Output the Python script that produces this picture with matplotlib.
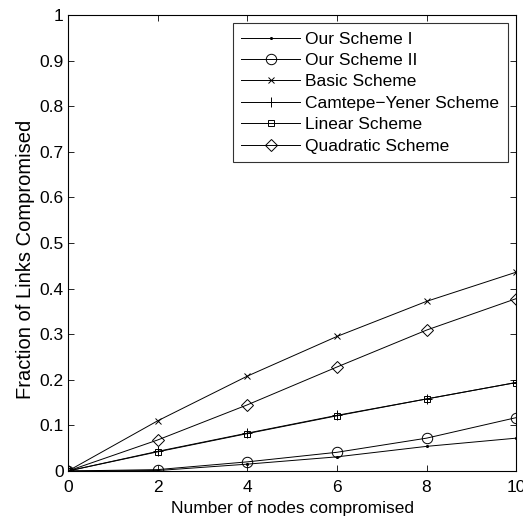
import numpy as np
import matplotlib
matplotlib.use("Agg")
import matplotlib.pyplot as plt

plt.rcParams['font.family'] = ['Liberation Sans', 'DejaVu Sans']

nodes = [0, 2, 4, 6, 8, 10]
our_scheme_1 = [0.0, 0.001, 0.015, 0.031, 0.054, 0.072]
our_scheme_2 = [0.0, 0.003, 0.020, 0.041, 0.072, 0.117]
basic = [0.0, 0.110, 0.208, 0.295, 0.372, 0.436]
camtepe_yener = [0.0, 0.043, 0.083, 0.122, 0.158, 0.194]
linear = [0.0, 0.042, 0.082, 0.121, 0.158, 0.194]
quadratic = [0.0, 0.068, 0.145, 0.228, 0.309, 0.378]

series = [
    ("Our Scheme I", our_scheme_1, dict(marker='.', markersize=3)),
    ("Our Scheme II", our_scheme_2, dict(marker='o', markersize=7.5, markerfacecolor='none')),
    ("Basic Scheme", basic, dict(marker='x', markersize=5)),
    ("Camtepe\u2212Yener Scheme", camtepe_yener, dict(marker='+', markersize=7)),
    ("Linear Scheme", linear, dict(marker='s', markersize=5, markerfacecolor='none')),
    ("Quadratic Scheme", quadratic, dict(marker='D', markersize=6.5, markerfacecolor='none')),
]

fig = plt.figure(figsize=(5.23, 5.17), dpi=100)
ax = fig.add_axes([0.130, 0.089, 0.857, 0.882])

for label, vals, style in series:
    ax.plot(nodes, vals, color='black', linewidth=0.7, markeredgewidth=0.7,
            label=label, **style)

ax.set_xlim(0, 10)
ax.set_ylim(0, 1)
ax.set_xticks(np.arange(0, 11, 2))
ax.set_yticks(np.arange(0, 1.01, 0.1))
ax.set_yticklabels(['0', '0.1', '0.2', '0.3', '0.4', '0.5', '0.6', '0.7', '0.8', '0.9', '1'])
ax.tick_params(direction='in', top=True, right=True, labelsize=12.5, length=4, width=0.6, pad=3)
ax.tick_params(axis='x', pad=6.5)
for s in ax.spines.values():
    s.set_linewidth(0.8)

ax.set_xlabel('Number of nodes compromised', fontsize=12.5, labelpad=4)
ax.set_ylabel('Fraction of Links Compromised', fontsize=14.5)
ax.yaxis.set_label_coords(-0.074, 0.465)

leg = ax.legend(loc='upper right', bbox_to_anchor=(0.982, 0.983), fontsize=12.5,
                frameon=True, fancybox=False, edgecolor='black', handlelength=3.4,
                handletextpad=0.3, labelspacing=0.36, borderpad=0.5, borderaxespad=0.0)
leg.get_frame().set_linewidth(0.8)

fig.savefig('out.png', dpi=100)
